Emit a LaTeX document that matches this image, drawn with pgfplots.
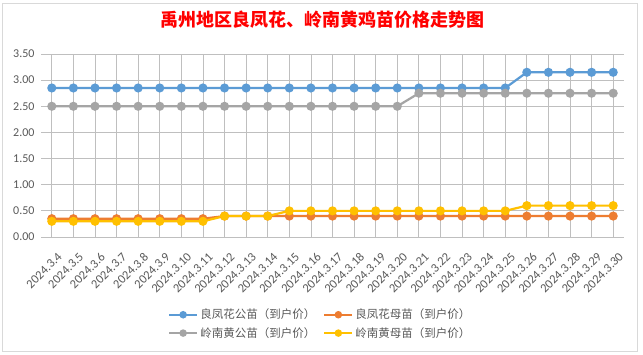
\documentclass[border=0pt]{standalone}
\usepackage{pgfplots}
\pgfplotsset{compat=1.18}
\usepackage{fontspec}
\setmainfont{Carlito}
\newfontfamily\cjk{Noto Sans CJK SC}
\definecolor{cblue}{HTML}{5B9BD5}
\definecolor{corange}{HTML}{ED7D31}
\definecolor{cgray}{HTML}{A5A5A5}
\definecolor{cyellow}{HTML}{FFC000}
\definecolor{txt}{HTML}{595959}
\definecolor{grid}{HTML}{D9D9D9}
\begin{document}
\begin{tikzpicture}[x=1pt,y=1pt]
\useasboundingbox (0,0) rectangle (643,355);
\fill[white] (0,0) rectangle (643,355);
\draw[grid] (2,4) rectangle (637,352);
\node[text=red,font=\cjk\bfseries\fontsize{18}{21}\selectfont] at (322,335) {禹州地区良凤花、岭南黄鸡苗价格走势图};
\begin{axis}[
  at={(41pt,118pt)}, anchor=south west,
  scale only axis, width=583pt, height=183pt,
  xmin=-0.5, xmax=26.5, ymin=0, ymax=3.5,
  ytick={0,0.5,...,3.5},
  xtick={0,...,26},
  xticklabels={2024.3.4,2024.3.5,2024.3.6,2024.3.7,2024.3.8,2024.3.9,2024.3.10,2024.3.11,2024.3.12,2024.3.13,2024.3.14,2024.3.15,2024.3.16,2024.3.17,2024.3.18,2024.3.19,2024.3.20,2024.3.21,2024.3.22,2024.3.23,2024.3.24,2024.3.25,2024.3.26,2024.3.27,2024.3.28,2024.3.29,2024.3.30},
  axis line style={draw=none},
  major tick length=0pt,
  ymajorgrids, grid style={grid, line width=0.75pt},
  yticklabel style={/pgf/number format/.cd, fixed, fixed zerofill, precision=2, assume math mode=true},
  tick label style={text=txt, font=\fontsize{12}{14}\selectfont},
  x tick label style={xshift=5pt, rotate=45, anchor=north east, inner sep=0.5pt, font=\fontsize{12.5}{14}\selectfont},
  xticklabel shift=14pt,
  yticklabel shift=3pt,
  every axis plot/.append style={line width=2.2pt, mark=*, mark size=3.4pt, mark options={solid}},
  legend columns=2,
  legend style={at={(0.479,-0.475)}, anchor=center, draw=none, fill=none,
    font=\cjk\fontsize{11.5}{14}\selectfont, text=txt,
    /tikz/every even column/.append style={column sep=6pt}, row sep=3pt},
  legend image code/.code={\draw[mark repeat=2,mark phase=2,line width=2.2pt,#1,mark size=2.6pt] plot coordinates {(0pt,0pt) (14pt,0pt) (28pt,0pt)};},
]
\addplot[color=cblue] coordinates {(0,2.85)(1,2.85)(2,2.85)(3,2.85)(4,2.85)(5,2.85)(6,2.85)(7,2.85)(8,2.85)(9,2.85)(10,2.85)(11,2.85)(12,2.85)(13,2.85)(14,2.85)(15,2.85)(16,2.85)(17,2.85)(18,2.85)(19,2.85)(20,2.85)(21,2.85)(22,3.15)(23,3.15)(24,3.15)(25,3.15)(26,3.15)};
\addlegendentry{良凤花公苗（到户价）}
\addplot[color=corange] coordinates {(0,0.35)(1,0.35)(2,0.35)(3,0.35)(4,0.35)(5,0.35)(6,0.35)(7,0.35)(8,0.4)(9,0.4)(10,0.4)(11,0.4)(12,0.4)(13,0.4)(14,0.4)(15,0.4)(16,0.4)(17,0.4)(18,0.4)(19,0.4)(20,0.4)(21,0.4)(22,0.4)(23,0.4)(24,0.4)(25,0.4)(26,0.4)};
\addlegendentry{良凤花母苗（到户价）}
\addplot[color=cgray] coordinates {(0,2.5)(1,2.5)(2,2.5)(3,2.5)(4,2.5)(5,2.5)(6,2.5)(7,2.5)(8,2.5)(9,2.5)(10,2.5)(11,2.5)(12,2.5)(13,2.5)(14,2.5)(15,2.5)(16,2.5)(17,2.75)(18,2.75)(19,2.75)(20,2.75)(21,2.75)(22,2.75)(23,2.75)(24,2.75)(25,2.75)(26,2.75)};
\addlegendentry{岭南黄公苗（到户价）}
\addplot[color=cyellow] coordinates {(0,0.3)(1,0.3)(2,0.3)(3,0.3)(4,0.3)(5,0.3)(6,0.3)(7,0.3)(8,0.4)(9,0.4)(10,0.4)(11,0.5)(12,0.5)(13,0.5)(14,0.5)(15,0.5)(16,0.5)(17,0.5)(18,0.5)(19,0.5)(20,0.5)(21,0.5)(22,0.6)(23,0.6)(24,0.6)(25,0.6)(26,0.6)};
\addlegendentry{岭南黄母苗（到户价）}
\end{axis}
\end{tikzpicture}
\end{document}
